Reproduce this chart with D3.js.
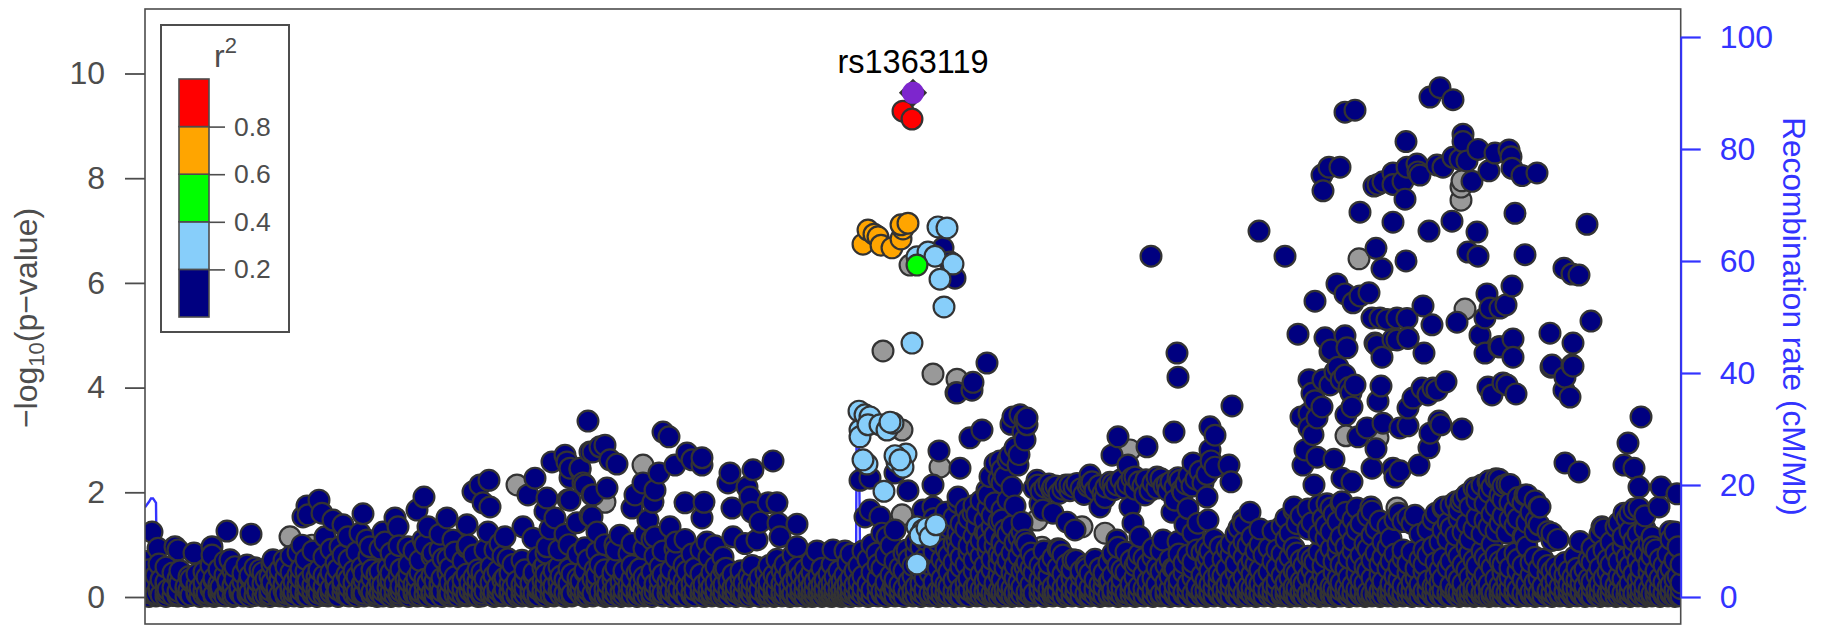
<!DOCTYPE html>
<html><head><meta charset="utf-8">
<script src="https://cdn.jsdelivr.net/npm/d3@7"></script>
<style>html,body{margin:0;background:#fff}svg{display:block;font-family:"Liberation Sans",Arial,sans-serif}</style>
</head><body><svg id="c" width="1825" height="625"></svg>
<script>
// columns: [position kb, -log10p, -log10p, ...]
const navyColsA=[[1,.03,.31,.36,.68],[4,.01,.08,.15,.52],[6,.22,.27],[11,.02,.06,.41],[14,.12,.19,.63],[16,.04,.33],[21,.01,.09,.24,.29,.57],[23,.07,.14],[28,.03,.18,.46],[33,.02,.05,.11,.35],[35,.26,.5],[41,.01,.16,.2],[44,.08,.13,.39],[46,.03,.3,.34],[52,.06,.1,.23,.44],[55,.01,.17],[59,.04,.12,.28,.48],[62,.02,.07,.38],[66,.15,.21,.6],[69,.01,.05,.32,.36],[74,.09,.25,.53],[76,.03,.13,.19],[80,.02,.42,.68],[83,.06,.1,.27,.31],[88,.01,.16,.22,.5],[90,.04,.35,.58],[95,.08,.12,.18],[98,.02,.29,.45],[103,.05,.14,.24],[105,.01,.09,.37,.41],[110,.03,.2,.56],[113,.07,.11,.3],[118,.02,.16,.26,.47],[121,.04,.34],[125,.01,.06,.13,.39],[127,.21,.28,.62],[132,.03,.09,.17,.44],[135,.02,.05,.33,.52],[139,.12,.24,.7],[141,.01,.07,.37,.58],[146,.04,.15,.19,.47,.78],[149,.02,.1,.29],[153,.06,.22,.42,.85],[156,.01,.13,.35,.54],[161,.03,.08,.26,.49,.72],[163,.02,.18,.31],[168,.05,.11,.23,.44,.88],[172,.01,.15,.38],[174,.07,.28,.52],[179,.03,.12,.2,.41,.76],[183,.02,.06,.33],[186,.09,.17,.47,.91],[191,.04,.25,.36,.65],[193,.01,.14,.53],[198,.08,.21,.3,.8],[202,.03,.11,.43],[204,.02,.19,.34,.71],[209,.05,.16,.27,.5],[212,.01,.09,.39,.86],[217,.04,.13,.24,.57],[219,.02,.07,.32,.45],[224,.15,.2,.78],[227,.03,.1,.36,.52],[232,.01,.06,.18,.43],[235,.08,.28,.49,.92],[238,.02,.12,.23],[243,.05,.17,.35,.56],[246,.01,.09,.31,.46,.84],[250,.03,.14,.26,.66],[254,.02,.07,.4,.98],[256,.11,.21,.53],[261,.04,.16,.33],[264,.01,.08,.29,.44,.62],[269,.06,.13,.24,.88],[272,.02,.18,.37],[275,.03,.1,.47,.7],[280,.05,.22,.34,1.0],[283,.01,.12,.27],[287,.04,.08,.41,.78],[290,.02,.15,.3,.52],[295,.06,.19,.25,.9],[297,.01,.11,.36],[303,.03,.14,.46,.74],[305,.02,.07,.28,.56],[310,.05,.2,.39,.86],[313,.01,.1,.23],[318,.03,.16,.33,.69],[322,.02,.06,.44,.95],[325,.12,.27],[329,.04,.09,.18,.38,.8],[333,.01,.14,.31,.52],[337,.02,.07,.24,.47],[340,.11,.35,.9],[346,.05,.17,.28,.58],[349,.01,.09,.41],[353,.03,.13,.21,.5],[358,.02,.06,.32,.78],[360,.15,.37],[365,.04,.1,.26,.46],[368,.01,.19,.62],[372,.03,.08,.3],[377,.02,.13,.23,.7],[380,.05,.17,.35,.52],[386,.01,.11,.27],[389,.03,.07,.4,.47],[393,.02,.15,.2,.76],[398,.06,.12,.31,.55],[401,.01,.09,.25,.44,.84],[406,.03,.17,.36],[409,.02,.05,.22,.5],[414,.11,.29,.58,.9],[416,.04,.14,.4],[420,.01,.08,.33],[424,.03,.19,.26,.54,1.0],[427,.02,.06,.44],[433,.12,.23,.36,.82],[436,.05,.16,.3],[440,.01,.09,.47,.94],[443,.03,.13,.21,.71],[448,.02,.07,.34],[452,.18,.28,.42,.86],[455,.04,.1,.62],[460,.01,.15,.38,.52,1.0],[463,.03,.08,.25],[468,.02,.12,.33,.46],[471,.06,.19,.57,.9],[476,.01,.1,.29],[479,.04,.14,.4,.5],[484,.02,.07,.23,.83],[487,.03,.17,.35,.6,1.02],[492,.01,.12,.46],[495,.05,.09,.27,.54],[499,.02,.16,.38,.92],[503,.03,.2,.31],[507,.01,.07,.48,1.1],[510,.11,.25,.78],[515,.04,.14,.34,.58],[518,.02,.08,.43,.88],[523,.06,.18,.29],[526,.01,.12,.37,.52],[531,.03,.09,.22,.74,1.05],[534,.02,.15,.41],[539,.05,.11,.3,.6],[542,.01,.19,.49],[547,.03,.08,.26,.82],[550,.02,.13,.36,.55],[556,.06,.17,.44,.9],[559,.01,.1,.24],[564,.03,.14,.33,.76],[567,.02,.07,.2,.47],[571,.05,.11,.28,.58],[576,.01,.16,.38],[579,.03,.09,.24,.52],[584,.02,.13,.31],[588,.06,.18,.43],[591,.01,.1,.22],[596,.04,.14,.36,.5],[599,.02,.08,.27],[604,.01,.12,.19,.4],[607,.05,.16,.31,.6],[612,.03,.09,.24],[615,.01,.13,.37],[621,.02,.07,.21,.46],[624,.06,.15,.29,.6],[629,.01,.1,.18,.42],[632,.03,.13,.33,.72],[637,.02,.08,.25,.5],[640,.05,.17,.38,.62],[645,.01,.11,.2,.46],[648,.03,.07,.29,.8],[652,.02,.14,.35,.55],[656,.04,.09,.18,.42],[660,.01,.12,.27,.52],[664,.03,.06,.16,.36],[667,.01,.1,.22,.47,.68],[670,.02,.05,.13,.3],[674,.04,.08,.19,.4],[677,.01,.11,.25,.55],[680,.03,.06,.15,.33],[684,.02,.09,.21,.44],[687,.01,.05,.12,.28,.62],[690,.04,.08,.17,.38],[694,.02,.11,.24,.5],[697,.01,.06,.14,.31],[700,.03,.09,.2,.42],[703,.02,.05,.13,.27,.66],[706,.01,.08,.18,.36,.82],[710,.04,.1,.23,.5]];
const navyColsB=[[714,.02,.12,.3,.6],[718,.05,.17,.4,.88],[723,.01,.09,.25,.72],[727,.03,.14,.47,1.0],[733,.02,.2,.35,.62],[737,.06,.11,.55,1.22],[741,.01,.15,.28,.8],[746,.04,.09,.42,.98],[750,.02,.18,.33,.68],[755,.03,.12,.24,.56],[759,.01,.16,.5,.84],[764,.05,.08,.3,.72],[768,.02,.13,.4,.6],[771,.03,.2,.85,1.05],[776,.01,.1,.26,.5,.95],[780,.04,.15,.36,.74,1.1],[785,.02,.07,.46,.62,1.3],[789,.06,.18,.28,.86,1.5],[793,.01,.11,.55,1.05,1.28],[797,.03,.14,.35,.72,1.16,1.45],[801,.02,.09,.24,.6,.92,1.62],[804,.05,.2,.48,.8,1.34],[809,.01,.12,.32,.66,1.02,1.52],[813,.03,.08,.42,.9,1.22,1.8],[816,.02,.16,.57,.76,1.1,1.4],[821,.04,.1,.27,.62,1.3,1.68],[824,.01,.13,.36,.85,.98,1.5],[829,.06,.18,.5,.7,1.16,1.75],[832,.02,.09,.22,.94,1.36,1.58],[836,.03,.14,.44,.78,1.08,1.84],[840,.01,.11,.3,.6,1.24,1.46],[843,.05,.16,.38,.88,1.02,1.7,1.95],[847,.02,.07,.52,.72,1.34,1.56],[850,.03,.19,.26,.98,1.18,1.8],[854,.01,.12,.42,.64,.82,1.44,2.25],[857,.04,.09,.33,.76,1.08,1.66],[860,.02,.15,.56,.92,1.28,2.3],[863,.06,.11,.24,.7,1.2,1.85,2.62],[867,.01,.17,.46,.84,1.36,2.1],[870,.03,.08,.36,.6,1.04,1.74],[874,.02,.13,.28,.78,1.14,2.72],[877,.05,.19,.5,.95,1.25],[882,.01,.1,.38,.66,1.02],[886,.03,.14,.24,.55,.84],[889,.02,.07,.46,.72],[895,.06,.17,.33,.6,1.78],[899,.01,.11,.26,.5,.88],[904,.03,.15,.4,.64],[908,.02,.08,.2,.75],[913,.04,.12,.31,.56,.92],[918,.01,.18,.44,.8],[922,.03,.09,.27,.62],[927,.02,.14,.36,.52],[931,.05,.1,.22,.7],[936,.01,.16,.4,.5],[941,.03,.07,.29,.6],[945,.02,.12,.18,.45],[950,.04,.15,.33,.72],[955,.01,.09,.24,.55],[959,.03,.19,.37,.46],[964,.02,.06,.28,.66],[968,.05,.13,.42,.8],[973,.01,.1,.21,.6,.95],[977,.03,.17,.34,.52],[981,.02,.08,.47,.86],[986,.04,.14,.25,.7],[990,.01,.11,.38,.6],[994,.03,.07,.2,.82],[999,.02,.16,.44,.74],[1003,.05,.09,.3,.63],[1008,.01,.13,.36,.76],[1012,.03,.18,.24,.56],[1016,.02,.06,.48,.88],[1021,.04,.12,.28,.6],[1025,.01,.15,.4,.72],[1030,.03,.08,.22,.54],[1034,.02,.19,.33,.82],[1039,.05,.1,.46,.65],[1043,.01,.14,.26,.8],[1048,.03,.07,.37,.55,1.22],[1052,.02,.16,.2,.9],[1057,.04,.11,.42,.85],[1061,.01,.13,.31,.66,.95],[1065,.03,.08,.24,.5,.88],[1069,.02,.17,.36,.7,1.1],[1074,.05,.1,.28,.45],[1078,.01,.14,.4,.72],[1082,.03,.07,.22,.55,.92],[1086,.02,.19,.33,.8,1.02],[1091,.04,.11,.47,.64,1.2],[1094,.01,.15,.27,.9,1.32],[1099,.03,.08,.38,.76,1.05,1.4],[1103,.02,.13,.2,.58,.98],[1107,.05,.17,.44,.7,1.15],[1111,.01,.1,.3,.62,.88],[1115,.03,.06,.25,.52,1.0,1.3],[1119,.02,.16,.36,.8],[1124,.04,.12,.48,.94],[1128,.01,.09,.22,.68,1.26],[1132,.03,.18,.33,.56,.9],[1137,.02,.07,.41,.82,1.35],[1141,.05,.14,.27,.62,1.1,1.5],[1145,.01,.11,.37,.76,1.22],[1149,.03,.08,.2,.5,.94,1.65],[1152,.02,.17,.45,.84,1.4],[1156,.04,.1,.3,.7,1.55],[1159,.01,.15,.25,.6],[1163,.03,.06,.39,.78,1.3,1.68],[1167,.02,.12,.52,.72,1.42],[1170,.05,.18,.34,.66],[1174,.01,.09,.24,.86,1.2,1.75],[1178,.03,.14,.43,.6,1.5],[1181,.02,.07,.31,.76,1.12,1.36],[1186,.04,.11,.2,.92,1.25,1.7],[1189,.01,.16,.47,.68,1.58],[1193,.03,.09,.35,.84,1.02,1.44],[1196,.02,.13,.27,.62,1.15,1.78],[1201,.06,.19,.54,.96,1.62],[1204,.01,.1,.38,.74,1.3],[1208,.03,.07,.23,.88,1.08,1.48],[1212,.02,.15,.44,.66,1.28,1.7],[1216,.05,.12,.32,.8,1.4],[1220,.01,.17,.26,.58,1.02],[1223,.03,.09,.5,.92,1.55],[1227,.02,.06,.36,.7,1.18,1.64],[1231,.04,.14,.21,.84,1.3],[1235,.01,.11,.42,.62,1.45],[1238,.03,.18,.3,.76,1.05],[1243,.02,.08,.55,.95,1.35],[1246,.05,.13,.25,.68,1.12],[1250,.01,.16,.4,.82,1.48],[1254,.03,.1,.33,.58,1.6],[1258,.02,.07,.22,.74,.9,1.44],[1263,.04,.15,.46,.64,1.52],[1267,.01,.12,.29,.86,1.4],[1271,.03,.09,.37,.55],[1275,.02,.17,.24,.72,1.2],[1279,.05,.11,.48,.62,.9],[1283,.01,.14,.31,.8,1.28],[1288,.03,.06,.2,.96,1.48],[1291,.02,.19,.4,.66,1.6],[1295,.04,.1,.28,.52,1.05],[1298,.01,.13,.36,.74,1.28,1.7],[1303,.03,.08,.56,1.1,1.42],[1306,.02,.16,.23,.68,1.32,1.75],[1311,.05,.12,.44,.9,1.18,1.82],[1314,.01,.09,.33,.78,1.5,1.66],[1318,.03,.18,.26,.62,1.24,1.88],[1322,.02,.07,.52,.96,1.4,1.96],[1325,.04,.14,.38,.84,1.1,1.72],[1329,.01,.11,.21,.7,1.3,2.08],[1332,.03,.16,.47,.6,1.52,1.85],[1337,.02,.08,.3,.88,1.2,2.14],[1340,.05,.13,.42,.76,1.46,1.78],[1344,.01,.19,.25,.66,1.34,2.0,2.22],[1347,.03,.1,.56,1.0,1.58,2.1],[1351,.02,.06,.35,.8,1.26,1.72,2.26],[1355,.04,.15,.22,.68,1.4,1.94],[1358,.01,.12,.46,.62,1.55,1.86,2.12],[1362,.03,.09,.3,.78,1.22,2.15],[1365,.02,.17,.38,.56,1.48,1.8],[1370,.05,.11,.25,.84,1.36,1.66],[1373,.01,.14,.5,.72,1.5,1.9],[1378,.03,.07,.33,.6,1.16,1.8],[1382,.02,.19,.24,.96,1.42,1.95],[1386,.04,.1,.42,.66,1.62],[1390,.01,.13,.28,.76,1.25,1.84],[1394,.03,.08,.36,.54,1.38,1.72],[1398,.02,.16,.21,.72],[1403,.05,.12,.44,.6,1.25],[1407,.01,.09,.27,.5,1.08],[1411,.03,.15,.34,.58],[1415,.02,.06,.2,.48],[1420,.04,.11,.3,.42,.66],[1424,.01,.13,.24,.5],[1428,.03,.08,.18,.38],[1432,.02,.16,.33,.55],[1436,.05,.1,.26,.44],[1440,.01,.14,.21,.53],[1444,.03,.07,.35,.72],[1447,.02,.18,.29,.66,.94],[1452,.04,.12,.42,.8],[1455,.01,.09,.25,.56,1.2],[1459,.03,.15,.37,.9,1.3],[1463,.02,.06,.48,.72],[1466,.05,.19,.3,.62,1.05],[1471,.01,.11,.22,.84,1.34],[1474,.03,.13,.4,.68,1.42],[1478,.02,.08,.34,.96,1.15],[1482,.04,.16,.52,.76,1.5],[1485,.01,.1,.26,.6,1.26,1.6],[1489,.03,.07,.44,.88,1.08,1.68],[1493,.02,.12,.31,.7,1.2],[1496,.05,.17,.38,.55,.92],[1500,.01,.09,.23,.82,1.3,1.55],[1504,.03,.14,.47,.64,1.02],[1507,.02,.06,.33,.78,1.15],[1511,.04,.11,.2,.5,.9],[1515,.01,.15,.36,.72],[1519,.03,.08,.28,.6],[1523,.02,.18,.44,.82],[1526,.05,.1,.24,.54,1.1],[1530,.01,.13,.34,.7,1.24],[1533,.03,.07,.4,.96],[1536,.02,.16,.27,.62]];
// discrete points [position kb, -log10p]
const navyBand=[[889,2.08],[893,2.14],[896,2.02],[900,2.1],[904,2.16],[907,2.05],[911,2.12],[914,1.98],[918,2.06],[921,2.14],[925,2.03],[929,2.1],[932,2.17],[936,2.07],[939,1.96],[943,2.12],[947,2.2],[950,2.04],[954,2.13],[958,1.98],[961,2.1],[965,2.19],[969,2.05],[972,2.14],[976,2.24],[980,2.08],[983,2.16],[987,2.27],[990,2.06],[994,2.2],[998,2.12],[1001,2.24],[1005,2.03],[1008,2.18],[1012,2.08],[1016,2.26],[1019,2.12],[1023,2.03],[1026,2.2],[1030,2.1],[1033,2.28],[1037,2.05],[1041,2.16],[1044,2.32],[1047,2.12],[1051,2.25],[1055,2.4],[1058,2.18],[1062,2.34],[1066,2.6],[1070,2.48]];
const navyLeft=[[7,1.24],[13,.93],[30,.96],[33,.9],[49,.84],[67,.96],[67,.8],[82,1.26],[106,1.2],[85,.71],[102,.61],[115,.52],[128,.71],[157,.99],[174,1.85],[162,1.74],[158,1.53],[163,1.57],[177,1.6],[188,1.47],[198,1.38],[218,1.59],[203,1.15],[195,.96],[215,1.22],[222,1.09],[225,.96],[250,1.51],[253,1.34],[238,1.24],[263,.96],[283,1.34],[278,1.09],[279,1.91],[272,1.66],[302,1.51],[288,.84],[308,1.09],[298,.73],[322,1.38],[323,.99],[328,2.01],[335,2.14],[344,2.23],[338,1.8],[345,1.72],[343,1.24],[355,1.02],[363,.73],[390,2.27],[383,1.95],[402,1.89],[410,1.51],[400,1.64],[378,1.34],[388,1.12],[402,.96],[400,.61],[407,2.58],[420,2.71],[422,2.58],[423,1.86],[435,2.43],[438,2.18],[448,1.95],[425,2.28],[445,2.77],[443,3.36],[455,2.87],[432,1.42],[445,1.55],[452,1.24],[440,.51],[425,2.46],[435,2.46],[448,2.77],[460,2.9],[465,2.62],[472,2.54],[425,1.85],[440,2.14],[447,1.95],[462,2.08],[447,1.53],[475,1.18],[450,.52],[524,3.06],[518,3.15],[514,2.37],[498,2.18],[490,1.95],[487,1.7],[510,2.04],[508,1.81],[503,1.47],[540,1.8],[559,1.81],[557,1.51],[542,2.75],[530,2.52],[557,2.52],[557,2.66],[547,2.62],[525,1.34],[562,1.05],[578,.76],[581,.55],[588,1.15],[628,2.6],[608,2.43],[585,2.37],[583,2.18],[605,1.91],[602,2.1],[587,1.7],[607,1.62],[615,1.43],[632,1.8],[633,1.41],[652,1.39],[652,.96],[623,1.8],[612,1.09],[653,.57],[688,.9],[672,.88],[700,.88],[500,1.2],[470,1.0],[405,1.3],[360,1.15],[295,1.2],[180,1.15],[240,1.05],[540,1.1],[600,1.02],[635,1.15],[530,.92],[350,.9],[420,1.2],[510,1.15],[570,.98]];
const navyMiddle=[[812,3.9],[827,3.95],[794,2.79],[815,2.46],[788,2.14],[763,2.03],[715,2.23],[725,2.27],[750,2.37],[725,1.66],[720,1.53],[735,1.53],[750,1.28],[742,1.15],[762,.9],[732,.84],[825,3.04],[837,3.19],[868,3.44],[875,3.48],[882,3.29],[880,3.0],[873,2.52],[857,2.43],[857,2.18],[842,2.04],[813,1.91],[828,1.6],[857,1.47],[877,1.43],[880,1.09],[857,1.03],[842,1.22],[812,1.09],[778,1.66],[788,1.72],[973,3.06],[967,2.71],[1002,2.87],[1029,3.15],[1087,3.65],[1065,3.25],[1070,3.09],[1065,2.81],[1048,2.56],[1084,2.52],[1086,2.2],[1062,1.91],[983,2.52],[945,2.33],[892,2.23],[908,2.1],[925,2.14],[945,2.16],[968,2.16],[990,2.29],[1012,2.29],[1035,2.23],[1022,2.16],[898,1.66],[908,1.6],[930,1.28],[922,1.43],[955,1.72],[985,1.72],[988,1.41],[995,1.15],[972,1.09],[968,.84],[1027,1.62],[1043,1.69],[1040,1.38],[1063,1.47],[1053,1.41],[1033,1.06],[1018,1.09],[1008,.93],[992,.67],[1028,.55],[1048,.67],[1063,.77],[1105,1.62],[1098,1.47],[1075,.96],[928,.71],[942,.55],[915,.9],[910,.08],[880,.58],[748,.19],[965,.31],[798,6.67],[805,6.4],[810,6.09],[842,4.47],[828,4.1],[811,3.9],[1006,6.51],[1032,4.66],[1033,4.2],[870,2.85],[865,2.7],[882,3.42],[878,3.15],[866,3.3],[880,3.38],[845,2.3],[850,2.55],[855,2.6],[1038,2.0],[1030,1.85],[1000,1.95],[960,1.9]];
const navyRight=[[1295,9.73],[1285,9.55],[1308,9.5],[1200,9.26],[1210,9.3],[1318,8.84],[1318,8.7],[1333,8.55],[1350,8.48],[1364,8.54],[1366,8.41],[1367,8.19],[1377,8.05],[1392,8.1],[1261,8.7],[1184,8.21],[1177,8.06],[1195,8.21],[1178,7.76],[1229,7.85],[1233,7.88],[1238,7.93],[1248,8.1],[1248,7.88],[1258,7.94],[1262,8.21],[1272,8.27],[1275,8.06],[1273,8.12],[1292,8.25],[1298,8.21],[1308,8.4],[1322,8.33],[1315,8.36],[1327,7.94],[1344,8.14],[1260,7.6],[1215,7.35],[1248,7.16],[1284,6.99],[1307,7.18],[1332,6.97],[1370,7.33],[1442,7.12],[1114,6.99],[1140,6.51],[1323,6.59],[1333,6.51],[1380,6.54],[1231,6.66],[1237,6.27],[1261,6.42],[1419,6.28],[1427,6.17],[1434,6.15],[1192,5.98],[1200,5.79],[1208,5.62],[1215,5.75],[1224,5.81],[1170,5.65],[1278,5.56],[1287,5.2],[1312,5.25],[1342,5.79],[1367,5.94],[1340,5.33],[1345,5.52],[1355,5.52],[1361,5.58],[1153,5.02],[1180,4.95],[1200,4.99],[1202,4.76],[1185,4.68],[1227,5.33],[1235,5.33],[1242,5.3],[1252,5.33],[1262,5.32],[1263,4.95],[1248,4.92],[1232,4.81],[1237,4.58],[1279,4.66],[1335,5.0],[1405,5.04],[1446,5.27],[1428,4.85],[1368,4.93],[1355,4.78],[1340,4.66],[1368,4.58],[1407,4.43],[1427,4.43],[1186,4.72],[1230,4.85],[1252,4.91],[1263,4.94],[1354,4.78],[1164,4.15],[1167,3.89],[1177,3.63],[1156,3.44],[1164,3.51],[1164,3.23],[1160,2.81],[1158,2.52],[1172,2.67],[1189,2.63],[1169,2.14],[1197,2.27],[1207,2.2],[1210,4.05],[1200,4.24],[1193,4.39],[1178,4.15],[1236,4.03],[1233,3.74],[1207,3.63],[1201,3.48],[1222,3.23],[1238,3.32],[1255,3.23],[1263,3.27],[1213,3.06],[1231,2.83],[1227,2.46],[1248,2.46],[1255,2.41],[1250,2.29],[1274,2.52],[1263,3.61],[1268,3.8],[1277,3.99],[1288,3.99],[1301,4.11],[1292,3.95],[1283,3.86],[1294,3.36],[1296,3.29],[1285,3.13],[1284,2.85],[1317,3.21],[1343,4.01],[1347,3.86],[1362,4.05],[1371,3.88],[1358,4.09],[1406,4.39],[1420,4.2],[1428,4.41],[1425,3.82],[1419,3.95],[1496,3.44],[1483,2.94],[1420,2.56],[1434,2.39],[1479,2.52],[1489,2.46],[1494,2.1],[1516,2.1],[1532,1.97],[1149,1.72],[1182,1.78],[1197,1.82],[1226,1.72],[1270,1.56],[1299,1.72],[1316,1.82],[1332,2.05],[1343,2.2],[1354,2.25],[1365,2.15],[1380,1.95],[1395,1.72],[1391,1.46],[1407,1.22],[1413,1.1],[1379,1.15],[1435,1.06],[1430,.77],[1457,1.34],[1479,1.6],[1494,1.7],[1514,1.72],[1525,1.25],[1508,.96],[1170,3.75],[1172,3.42],[1168,3.1],[1190,4.3],[1196,4.15],[1185,4.05],[1204,4.0],[1206,3.9]];
const grayPts=[[145,1.15],[167,.99],[372,2.14],[417,1.05],[498,2.52],[460,1.81],[612,.57],[622,.02],[795,2.48],[985,2.81],[757,3.19],[757,1.57],[937,1.34],[960,1.22],[892,1.47],[897,.95],[1050,1.15],[877,.03],[1022,.03],[755,.07],[765,6.34],[738,4.7],[788,4.26],[812,4.16],[1316,7.58],[1316,7.83],[1317,7.95],[1214,6.46],[1320,5.5],[1201,3.08],[1233,3.04],[1252,1.7]];
const skyPts=[[793,7.07],[802,7.05],[772,6.5],[783,6.59],[790,6.51],[808,6.36],[795,6.07],[799,5.54],[767,4.85],[714,3.55],[715,3.19],[715,3.06],[720,3.48],[725,3.44],[723,3.29],[735,3.29],[742,3.19],[748,3.32],[745,3.34],[761,2.73],[722,2.54],[718,2.62],[752,2.58],[758,2.48],[750,2.7],[755,2.62],[739,2.02],[772,.63],[772,1.34],[778,1.28],[775,1.18],[782,1.32],[785,1.15],[791,1.38]];
const greenPts=[[772,6.34]];
const orangePts=[[718,6.74],[723,7.01],[729,6.93],[733,6.88],[736,6.72],[747,6.67],[756,6.84],[758,7.03],[756,7.11],[763,7.14]];
const redPts=[[758,9.28],[767,9.13]];
const leadPt=[768,9.63];
const leadName="rs1363119";
const recomb=[[0,16],[4,17],[6,17.6],[8,17.6],[11,16.8],[12,.4],[711,.4],[711.5,27],[714,27],[715,8],[716,8],[717,.4],[1060,.3],[1066,4.6],[1070,4.6],[1071,.3],[1536,.3]];
const yTicks=[0,2,4,6,8,10];
const y2Ticks=[0,20,40,60,80,100];
const legendCuts=[0,.2,.4,.6,.8,1];
const legendLabels=[.2,.4,.6,.8];
const legendColors=["#000080","#87CEFA","#00FF00","#FFA500","#FF0000"];

const svg=d3.select("#c");
const x=d3.scaleLinear().domain([0,1535.7]).range([145,1680.7]);
const y=d3.scaleLinear().domain([0,10]).range([597,73.5]);
const y2=d3.scaleLinear().domain([0,100]).range([597,37]);
const dark="#333",axisC="#4d4d4d",blue="#3333ff";
svg.append("clipPath").attr("id","p").append("rect").attr("x",145).attr("y",9).attr("width",1535.7).attr("height",615);
const plot=svg.append("g").attr("clip-path","url(#p)");
plot.append("path").datum(recomb).attr("fill","none").attr("stroke",blue).attr("stroke-width",2.4)
 .attr("d",d3.line().x(d=>x(d[0])).y(d=>y2(d[1])));
function dots(data,fill){plot.append("g").selectAll("circle").data(data).join("circle")
 .attr("cx",d=>x(d[0])).attr("cy",d=>y(d[1])).attr("r",10.4).attr("fill",fill).attr("stroke",dark).attr("stroke-width",2.2);}
dots(grayPts,"#999999");
const navy=[];
for(const c of navyColsA.concat(navyColsB))for(const v of c.slice(1))navy.push([c[0],v]);
navy.push(...navyBand,...navyLeft,...navyMiddle,...navyRight);
navy.sort((a,b)=>d3.ascending(a[0],b[0]));
dots(navy,"#000080");
dots(skyPts,"#87CEFA");
dots(greenPts,"#00FF00");
dots(orangePts,"#FFA500");
dots(redPts,"#FF0000");
plot.append("path").attr("d",d3.symbol(d3.symbolSquare,400)()).attr("fill",dark)
 .attr("transform",`translate(${x(leadPt[0])},${y(leadPt[1])}) rotate(45)`);
plot.append("circle").attr("cx",x(leadPt[0])).attr("cy",y(leadPt[1])).attr("r",11).attr("fill","#7D26CD");
svg.append("rect").attr("x",145).attr("y",9).attr("width",1535.7).attr("height",615).attr("fill","none").attr("stroke",axisC).attr("stroke-width",1.6);
svg.append("text").attr("x",x(leadPt[0])).attr("y",73).attr("text-anchor","middle").attr("font-size",32.5).attr("fill","#000").text(leadName);

const gl=svg.append("g").attr("transform","translate(145,0)").call(d3.axisLeft(y).tickValues(yTicks).tickSize(20).tickPadding(20).tickFormat(d3.format("d")));
gl.select(".domain").remove();
gl.selectAll("line").attr("stroke",axisC).attr("stroke-width",1.8);
gl.selectAll("text").attr("fill",axisC).attr("font-size",32).attr("font-family","Liberation Sans");
const gr=svg.append("g").attr("transform","translate(1680.7,0)").call(d3.axisRight(y2).tickValues(y2Ticks).tickSize(20).tickSizeOuter(0).tickPadding(19));
gr.select(".domain").attr("stroke",blue).attr("stroke-width",2);
gr.selectAll("line").attr("stroke",blue).attr("stroke-width",2.2);
gr.selectAll("text").attr("fill",blue).attr("font-size",32).attr("font-family","Liberation Sans");

const t=svg.append("text").attr("transform","translate(37,318) rotate(-90)").attr("text-anchor","middle").attr("font-size",32).attr("fill",axisC);
t.append("tspan").text("\u2212log");
t.append("tspan").attr("font-size",22).attr("dy",7).text("10");
t.append("tspan").attr("dy",-7).text("(p\u2212value)");
svg.append("text").attr("transform","translate(1783,316.5) rotate(90)").attr("text-anchor","middle").attr("font-size",31.6).attr("fill",blue).text("Recombination rate (cM/Mb)");

// legend
const leg=svg.append("g");
leg.append("rect").attr("x",161).attr("y",25).attr("width",128).attr("height",307).attr("fill","#fff").attr("stroke",axisC).attr("stroke-width",2);
const ly=d3.scaleLinear().domain([0,1]).range([317,79]);
leg.selectAll(".s").data(legendColors).join("rect").attr("class","s").attr("x",179).attr("width",30)
 .attr("y",(d,i)=>ly(legendCuts[i+1])).attr("height",(d,i)=>ly(legendCuts[i])-ly(legendCuts[i+1])).attr("fill",d=>d).attr("stroke",axisC).attr("stroke-width",1.6);
const ga=leg.append("g").attr("transform","translate(209,0)").call(d3.axisRight(ly).tickValues(legendLabels).tickSize(16).tickPadding(9).tickFormat(d3.format(".1f")));
ga.select(".domain").remove();
ga.selectAll("line").attr("stroke",axisC).attr("stroke-width",1.6);
ga.selectAll("text").attr("fill",axisC).attr("font-size",26.5).attr("font-family","Liberation Sans");
const rt=leg.append("text").attr("x",214).attr("y",67).attr("font-size",32).attr("fill",axisC);
rt.append("tspan").text("r");
rt.append("tspan").attr("font-size",22).attr("dy",-14).text("2");
</script></body></html>
